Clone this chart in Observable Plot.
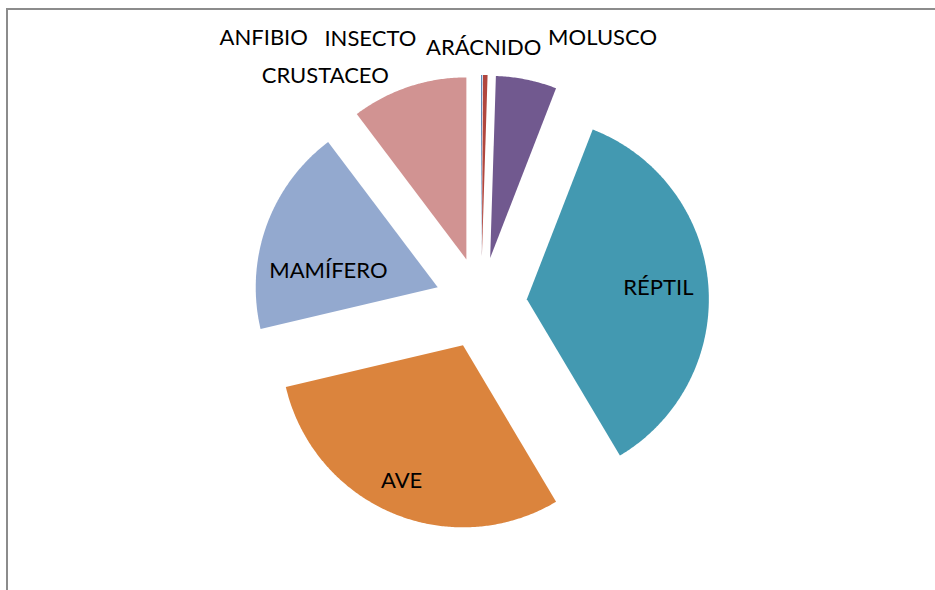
<!DOCTYPE html>
<html>
<head>
<meta charset="utf-8">
<script src="https://cdn.jsdelivr.net/npm/d3@7"></script>
<script src="https://cdn.jsdelivr.net/npm/@observablehq/plot@0.6"></script>
<style>
  html, body { margin: 0; padding: 0; background: #fff; }
  #wrap { position: relative; width: 935px; height: 590px; overflow: hidden; }
  #frame { position: absolute; left: 6px; top: 8px; width: 1000px; height: 700px;
           border-top: 2px solid #8c8c8c; border-left: 2px solid #8c8c8c; }
  #chart { position: absolute; left: 0; top: 0; }
</style>
</head>
<body>
<div id="wrap"><div id="frame"></div><div id="chart"></div></div>
<script>
// ---- data ----
const categories = ["ANFIBIO", "INSECTO", "ARÁCNIDO", "MOLUSCO", "RÉPTIL", "AVE", "MAMÍFERO", "CRUSTACEO"];
const values     = [0.1, 0.4, 0, 5.4, 35.6, 29.9, 18.4, 10.3];

// ---- style / layout ----
const colors = ["#4a78b0", "#b0463f", "#8aa84f", "#71598f", "#4399b1", "#db843d", "#93a9cf", "#d19392"];
const W = 935, H = 590;
const cx = 480.5, cy = 302.5, R = 182, explode = 46;
// label placement: [distance from pie centre, angle in degrees clockwise from 12 o'clock]
const labelPolar = {
  "ANFIBIO": [343, 320.7], "INSECTO": [286.7, 337.3], "ARÁCNIDO": [255.5, 0.6],
  "MOLUSCO": [292, 24.6], "RÉPTIL": [178, 85.3], "AVE": [194.5, 204.1],
  "MAMÍFERO": [156, 282], "CRUSTACEO": [275.6, 325.6]
};

const rows = categories.map((name, i) => ({name, value: values[i]}));
const arcs = d3.pie().sort(null).value(d => d.value).startAngle(0).endAngle(2 * Math.PI)(rows);

// polygon outline points of every exploded slice (from the pie angles)
const pts = [];
for (const a of arcs) {
  if (a.endAngle - a.startAngle <= 0) continue;
  const mid = (a.startAngle + a.endAngle) / 2;
  const ox = cx + explode * Math.sin(mid), oy = cy - explode * Math.cos(mid);
  pts.push({name: a.data.name, x: ox, y: oy});
  const n = Math.max(2, Math.ceil((a.endAngle - a.startAngle) / (Math.PI / 360)));
  for (let k = 0; k <= n; k++) {
    const t = a.startAngle + (a.endAngle - a.startAngle) * k / n;
    pts.push({name: a.data.name, x: ox + R * Math.sin(t), y: oy - R * Math.cos(t)});
  }
}

const labels = categories.map(name => {
  const [rho, deg] = labelPolar[name];
  const t = deg * Math.PI / 180;
  return {name, x: cx + rho * Math.sin(t), y: cy - rho * Math.cos(t)};
});

const chart = Plot.plot({
  width: W, height: H,
  margin: 0,
  style: {background: "transparent", fontFamily: "Lato, sans-serif"},
  x: {domain: [0, W], range: [0, W], axis: null},
  y: {domain: [0, H], range: [0, H], axis: null},
  color: {domain: categories, range: colors},
  marks: [
    Plot.line(pts, {x: "x", y: "y", z: "name", fill: "name", stroke: "none", curve: "linear-closed"}),
    Plot.text(labels, {x: "x", y: "y", text: "name", fill: "#000", fontSize: 22, textAnchor: "middle", lineAnchor: "middle"})
  ]
});
document.getElementById("chart").appendChild(chart);
</script>
</body>
</html>
